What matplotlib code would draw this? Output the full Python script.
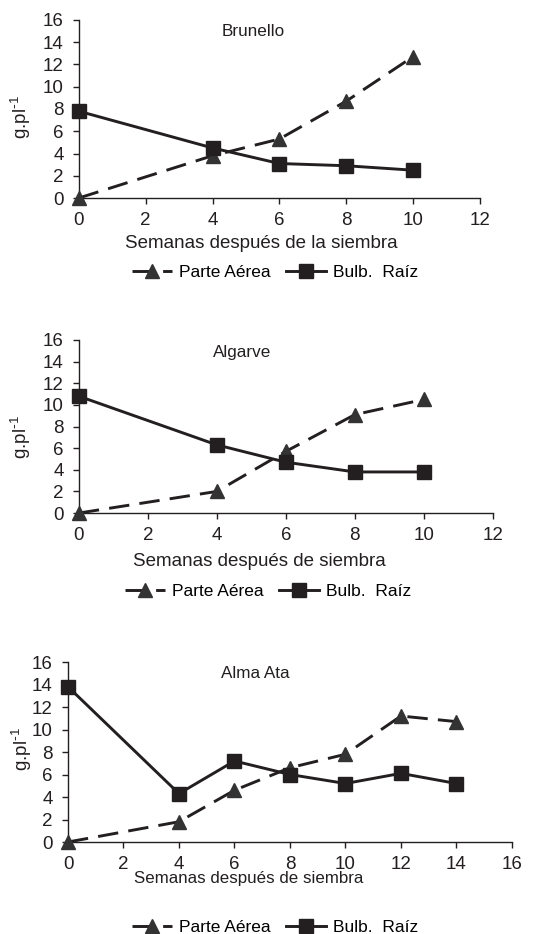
import matplotlib
matplotlib.use("Agg")
import matplotlib.pyplot as plt

plt.rcParams['font.family'] = ['Liberation Sans', 'DejaVu Sans']
plt.rcParams['mathtext.default'] = 'regular'

# datos
semanas_a = [0, 4, 6, 8, 10]
semanas_c = [0, 4, 6, 8, 10, 12, 14]

brunello_aerea = [0.0, 3.8, 5.3, 8.7, 12.7]
brunello_bulbo = [7.8, 4.5, 3.1, 2.9, 2.5]

algarve_aerea = [0.0, 2.0, 5.7, 9.1, 10.5]
algarve_bulbo = [10.8, 6.3, 4.7, 3.8, 3.8]

almaata_aerea = [0.0, 1.8, 4.6, 6.6, 7.8, 11.2, 10.7]
almaata_bulbo = [13.8, 4.3, 7.2, 6.0, 5.2, 6.1, 5.2]

titulos = ['Brunello', 'Algarve', 'Alma Ata']
xlabels = ['Semanas después de la siembra', 'Semanas después de siembra',
           'Semanas después de siembra']

negro = '#231f20'
gris = '#333333'

W, H = 544, 934
fig = plt.figure(figsize=(W / 100, H / 100), dpi=100)

# [left, bottom, width, height] en fraccion de figura
posiciones = [
    [0.145, 0.788, 0.737, 0.1906],
    [0.145, 0.4507, 0.761, 0.1853],
    [0.125, 0.0985, 0.816, 0.1927],
]
xmax = [12, 12, 16]
# posiciones en pixeles (x, y desde arriba)
title_xy = [(253, 32), (242, 353), (255, 673)]
xlabel_xy = [(261, 243), (259, 562), (249, 879)]
ylabel_xy = [(21, 117), (21, 437), (22, 749)]
legend_xy = [(275, 272), (268, 591), (275, 927)]
xlabel_size = [13.5, 13.5, 12.2]

datos = [
    (semanas_a, brunello_aerea, brunello_bulbo),
    (semanas_a, algarve_aerea, algarve_bulbo),
    (semanas_c, almaata_aerea, almaata_bulbo),
]

for i in range(3):
    ax = fig.add_axes(posiciones[i])
    x, aerea, bulbo = datos[i]
    l1, = ax.plot(x, aerea, color=negro, linestyle=(0, (7, 3.5)), linewidth=2.1,
                  marker='^', markersize=10.5, markerfacecolor=gris,
                  markeredgecolor=gris, clip_on=False, zorder=3)
    l2, = ax.plot(x, bulbo, color=negro, linestyle='-', linewidth=2.1,
                  marker='s', markersize=10.5, markerfacecolor=negro,
                  markeredgecolor=negro, clip_on=False, zorder=4)
    ax.set_xlim(0, xmax[i])
    ax.set_ylim(0, 16)
    ax.set_xticks(range(0, xmax[i] + 1, 2))
    ax.set_yticks(range(0, 17, 2))
    for s in ['top', 'right']:
        ax.spines[s].set_visible(False)
    for s in ['left', 'bottom']:
        ax.spines[s].set_color(negro)
        ax.spines[s].set_linewidth(1)
    ax.tick_params(axis='both', direction='out', length=4, width=1,
                   color=negro, labelsize=13.5, labelcolor=negro)
    ax.tick_params(axis='x', pad=6)
    ax.tick_params(axis='y', pad=7)

    tx, ty = title_xy[i]
    fig.text(tx / W, 1 - ty / H, titulos[i], ha='center', va='center',
             fontsize=12.3, color=negro)
    lx, ly = xlabel_xy[i]
    fig.text(lx / W, 1 - ly / H, xlabels[i], ha='center', va='center',
             fontsize=xlabel_size[i], color=negro)
    yx, yy = ylabel_xy[i]
    fig.text(yx / W, 1 - yy / H, r'g.pl$^{\text{-}1}$', ha='center', va='center',
             rotation=90, fontsize=13.5, color=negro)
    gx, gy = legend_xy[i]
    fig.legend([l1, l2], ['Parte Aérea', 'Bulb.  Raíz'], loc='center',
               bbox_to_anchor=(gx / W, 1 - gy / H), ncol=2,
               frameon=False, fontsize=12.5, handlelength=2.3,
               columnspacing=0.9, handletextpad=0.4)

fig.savefig('out.png', dpi=100, facecolor='white')
